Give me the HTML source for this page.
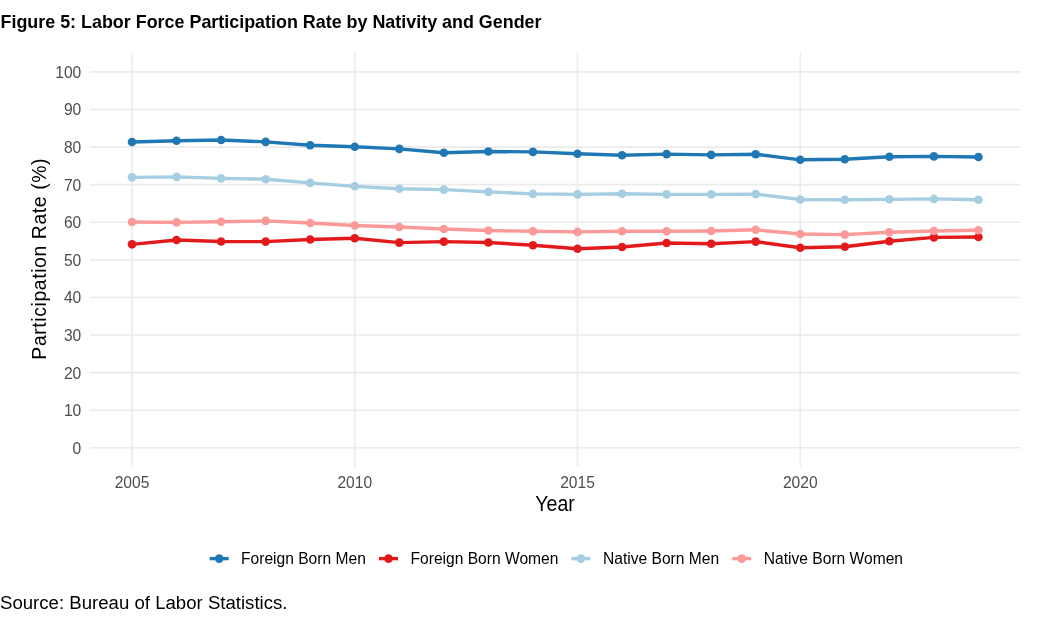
<!DOCTYPE html>
<html><head><meta charset="utf-8"><title>Figure 5: Labor Force Participation Rate by Nativity and Gender</title>
<style>
html,body{margin:0;padding:0;background:#fff;}
body{width:1044px;height:630px;overflow:hidden;}
svg{display:block;}
text{font-family:"Liberation Sans",Arial,sans-serif;}
</style></head>
<body>
<svg width="1044" height="630" viewBox="0 0 1044 630">
<rect width="1044" height="630" fill="#fff"/>
<text x="0.5" y="27.9" font-size="18.6" font-weight="bold" fill="#000" textLength="541" lengthAdjust="spacingAndGlyphs">Figure 5: Labor Force Participation Rate by Nativity and Gender</text>
<g stroke="#EBEBEB" stroke-width="1.6" fill="none">
<line x1="89.7" x2="1020.4" y1="447.8" y2="447.8"/>
<line x1="89.7" x2="1020.4" y1="410.21" y2="410.21"/>
<line x1="89.7" x2="1020.4" y1="372.62" y2="372.62"/>
<line x1="89.7" x2="1020.4" y1="335.03" y2="335.03"/>
<line x1="89.7" x2="1020.4" y1="297.44" y2="297.44"/>
<line x1="89.7" x2="1020.4" y1="259.85" y2="259.85"/>
<line x1="89.7" x2="1020.4" y1="222.26" y2="222.26"/>
<line x1="89.7" x2="1020.4" y1="184.67" y2="184.67"/>
<line x1="89.7" x2="1020.4" y1="147.08" y2="147.08"/>
<line x1="89.7" x2="1020.4" y1="109.49" y2="109.49"/>
<line x1="89.7" x2="1020.4" y1="71.9" y2="71.9"/>
<line x1="132" x2="132" y1="53.1" y2="466.6"/>
<line x1="354.75" x2="354.75" y1="53.1" y2="466.6"/>
<line x1="577.5" x2="577.5" y1="53.1" y2="466.6"/>
<line x1="800.25" x2="800.25" y1="53.1" y2="466.6"/>
</g>
<g fill="none" stroke-width="3.4" stroke-linejoin="round" stroke-linecap="butt">
<polyline stroke="#1F78B4" points="132,142.01 176.55,140.76 221.1,139.94 265.65,141.89 310.2,145.31 354.75,146.82 399.3,148.85 443.85,152.76 488.4,151.48 532.95,151.89 577.5,153.77 622.05,155.27 666.6,154.15 711.15,154.9 755.7,154.26 800.25,159.82 844.8,159.18 889.35,156.78 933.9,156.4 978.45,157.04"/>
<polyline stroke="#E31A1C" points="132,244.33 176.55,240 221.1,241.51 265.65,241.62 310.2,239.51 354.75,238.27 399.3,242.6 443.85,241.62 488.4,242.48 532.95,245.23 577.5,248.69 622.05,246.96 666.6,242.97 711.15,243.72 755.7,241.62 800.25,247.71 844.8,246.81 889.35,241.24 933.9,237.41 978.45,237.07"/>
<polyline stroke="#A6CEE3" points="132,177.34 176.55,176.85 221.1,178.35 265.65,179.26 310.2,182.9 354.75,186.32 399.3,188.8 443.85,189.59 488.4,191.85 532.95,193.88 577.5,194.37 622.05,193.77 666.6,194.37 711.15,194.37 755.7,194.14 800.25,199.56 844.8,199.82 889.35,199.33 933.9,198.92 978.45,199.71"/>
<polyline stroke="#FB9A99" points="132,222 176.55,222.37 221.1,221.77 265.65,220.91 310.2,223.01 354.75,225.49 399.3,226.96 443.85,228.95 488.4,230.57 532.95,231.32 577.5,231.92 622.05,231.32 666.6,231.32 711.15,231.06 755.7,229.82 800.25,234.06 844.8,234.66 889.35,232.3 933.9,230.94 978.45,230.27"/>
</g>
<g fill="#1F78B4"><circle cx="132" cy="142.01" r="4.3"/><circle cx="176.55" cy="140.76" r="4.3"/><circle cx="221.1" cy="139.94" r="4.3"/><circle cx="265.65" cy="141.89" r="4.3"/><circle cx="310.2" cy="145.31" r="4.3"/><circle cx="354.75" cy="146.82" r="4.3"/><circle cx="399.3" cy="148.85" r="4.3"/><circle cx="443.85" cy="152.76" r="4.3"/><circle cx="488.4" cy="151.48" r="4.3"/><circle cx="532.95" cy="151.89" r="4.3"/><circle cx="577.5" cy="153.77" r="4.3"/><circle cx="622.05" cy="155.27" r="4.3"/><circle cx="666.6" cy="154.15" r="4.3"/><circle cx="711.15" cy="154.9" r="4.3"/><circle cx="755.7" cy="154.26" r="4.3"/><circle cx="800.25" cy="159.82" r="4.3"/><circle cx="844.8" cy="159.18" r="4.3"/><circle cx="889.35" cy="156.78" r="4.3"/><circle cx="933.9" cy="156.4" r="4.3"/><circle cx="978.45" cy="157.04" r="4.3"/></g>
<g fill="#E31A1C"><circle cx="132" cy="244.33" r="4.3"/><circle cx="176.55" cy="240" r="4.3"/><circle cx="221.1" cy="241.51" r="4.3"/><circle cx="265.65" cy="241.62" r="4.3"/><circle cx="310.2" cy="239.51" r="4.3"/><circle cx="354.75" cy="238.27" r="4.3"/><circle cx="399.3" cy="242.6" r="4.3"/><circle cx="443.85" cy="241.62" r="4.3"/><circle cx="488.4" cy="242.48" r="4.3"/><circle cx="532.95" cy="245.23" r="4.3"/><circle cx="577.5" cy="248.69" r="4.3"/><circle cx="622.05" cy="246.96" r="4.3"/><circle cx="666.6" cy="242.97" r="4.3"/><circle cx="711.15" cy="243.72" r="4.3"/><circle cx="755.7" cy="241.62" r="4.3"/><circle cx="800.25" cy="247.71" r="4.3"/><circle cx="844.8" cy="246.81" r="4.3"/><circle cx="889.35" cy="241.24" r="4.3"/><circle cx="933.9" cy="237.41" r="4.3"/><circle cx="978.45" cy="237.07" r="4.3"/></g>
<g fill="#A6CEE3"><circle cx="132" cy="177.34" r="4.3"/><circle cx="176.55" cy="176.85" r="4.3"/><circle cx="221.1" cy="178.35" r="4.3"/><circle cx="265.65" cy="179.26" r="4.3"/><circle cx="310.2" cy="182.9" r="4.3"/><circle cx="354.75" cy="186.32" r="4.3"/><circle cx="399.3" cy="188.8" r="4.3"/><circle cx="443.85" cy="189.59" r="4.3"/><circle cx="488.4" cy="191.85" r="4.3"/><circle cx="532.95" cy="193.88" r="4.3"/><circle cx="577.5" cy="194.37" r="4.3"/><circle cx="622.05" cy="193.77" r="4.3"/><circle cx="666.6" cy="194.37" r="4.3"/><circle cx="711.15" cy="194.37" r="4.3"/><circle cx="755.7" cy="194.14" r="4.3"/><circle cx="800.25" cy="199.56" r="4.3"/><circle cx="844.8" cy="199.82" r="4.3"/><circle cx="889.35" cy="199.33" r="4.3"/><circle cx="933.9" cy="198.92" r="4.3"/><circle cx="978.45" cy="199.71" r="4.3"/></g>
<g fill="#FB9A99"><circle cx="132" cy="222" r="4.3"/><circle cx="176.55" cy="222.37" r="4.3"/><circle cx="221.1" cy="221.77" r="4.3"/><circle cx="265.65" cy="220.91" r="4.3"/><circle cx="310.2" cy="223.01" r="4.3"/><circle cx="354.75" cy="225.49" r="4.3"/><circle cx="399.3" cy="226.96" r="4.3"/><circle cx="443.85" cy="228.95" r="4.3"/><circle cx="488.4" cy="230.57" r="4.3"/><circle cx="532.95" cy="231.32" r="4.3"/><circle cx="577.5" cy="231.92" r="4.3"/><circle cx="622.05" cy="231.32" r="4.3"/><circle cx="666.6" cy="231.32" r="4.3"/><circle cx="711.15" cy="231.06" r="4.3"/><circle cx="755.7" cy="229.82" r="4.3"/><circle cx="800.25" cy="234.06" r="4.3"/><circle cx="844.8" cy="234.66" r="4.3"/><circle cx="889.35" cy="232.3" r="4.3"/><circle cx="933.9" cy="230.94" r="4.3"/><circle cx="978.45" cy="230.27" r="4.3"/></g>
<g font-size="15.6" fill="#4D4D4D" text-anchor="end">
<text x="81.3" y="453.7">0</text>
<text x="81.3" y="416.11">10</text>
<text x="81.3" y="378.52">20</text>
<text x="81.3" y="340.93">30</text>
<text x="81.3" y="303.34">40</text>
<text x="81.3" y="265.75">50</text>
<text x="81.3" y="228.16">60</text>
<text x="81.3" y="190.57">70</text>
<text x="81.3" y="152.98">80</text>
<text x="81.3" y="115.39">90</text>
<text x="81.3" y="77.8">100</text>
</g>
<g font-size="15.6" fill="#4D4D4D" text-anchor="middle">
<text x="132" y="487.9">2005</text>
<text x="354.75" y="487.9">2010</text>
<text x="577.5" y="487.9">2015</text>
<text x="800.25" y="487.9">2020</text>
</g>
<text x="555.05" y="511" font-size="21.5" fill="#000" text-anchor="middle" textLength="39.5" lengthAdjust="spacingAndGlyphs">Year</text>
<text transform="translate(46 259.05) rotate(-90)" x="0" y="0" font-size="19.4" fill="#000" text-anchor="middle" textLength="201.2" lengthAdjust="spacing">Participation Rate (%)</text>
<g font-size="15.6" fill="#000">
<line x1="209.7" x2="228.7" y1="558.6" y2="558.6" stroke="#1F78B4" stroke-width="3.4"/>
<circle cx="219.2" cy="558.6" r="4.3" fill="#1F78B4"/>
<text x="241" y="564">Foreign Born Men</text>
<line x1="379" x2="398" y1="558.6" y2="558.6" stroke="#E31A1C" stroke-width="3.4"/>
<circle cx="388.5" cy="558.6" r="4.3" fill="#E31A1C"/>
<text x="410.5" y="564">Foreign Born Women</text>
<line x1="571.4" x2="590.4" y1="558.6" y2="558.6" stroke="#A6CEE3" stroke-width="3.4"/>
<circle cx="580.9" cy="558.6" r="4.3" fill="#A6CEE3"/>
<text x="603" y="564">Native Born Men</text>
<line x1="732.2" x2="751.2" y1="558.6" y2="558.6" stroke="#FB9A99" stroke-width="3.4"/>
<circle cx="741.7" cy="558.6" r="4.3" fill="#FB9A99"/>
<text x="763.8" y="564">Native Born Women</text>
</g>
<text x="0" y="608.8" font-size="18" fill="#000" textLength="287.5" lengthAdjust="spacingAndGlyphs">Source: Bureau of Labor Statistics.</text>
</svg>
</body></html>
